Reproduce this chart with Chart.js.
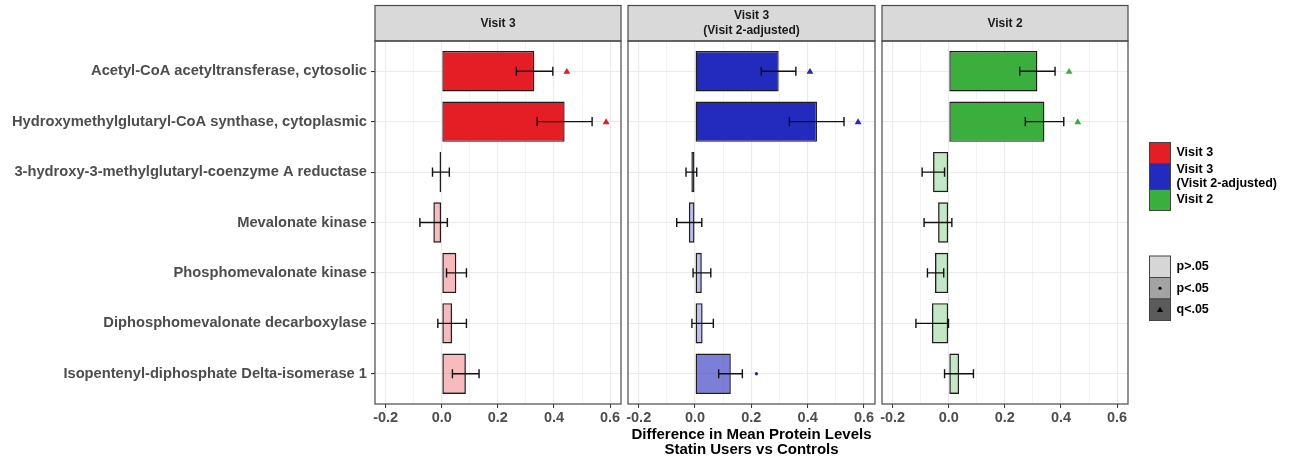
<!DOCTYPE html>
<html>
<head>
<meta charset="utf-8">
<title>Mevalonate pathway proteins</title>
<script src="https://cdn.jsdelivr.net/npm/chart.js@4.4.1/dist/chart.umd.min.js"></script>
<style>
  body { margin: 0; background: #fff; }
  #wrap { position: relative; width: 1292px; height: 466px; }
  #wrap canvas { position: absolute; left: 0; top: 0; }
</style>
</head>
<body>
<div id="wrap">
  <canvas id="panel1" width="1292" height="466"></canvas>
  <canvas id="panel2" width="1292" height="466"></canvas>
  <canvas id="panel3" width="1292" height="466"></canvas>
</div>
<script>
const proteins = [
  "Acetyl-CoA acetyltransferase, cytosolic",
  "Hydroxymethylglutaryl-CoA synthase, cytoplasmic",
  "3-hydroxy-3-methylglutaryl-coenzyme A reductase",
  "Mevalonate kinase",
  "Phosphomevalonate kinase",
  "Diphosphomevalonate decarboxylase",
  "Isopentenyl-diphosphate Delta-isomerase 1"
];

// mean difference, CI low/high, significance ("n" p>.05, "p" p<.05, "q" q<.05)
const visit3Diff = [0.330, 0.438, -0.008, -0.030, 0.052, 0.037, 0.086];
const visit3Low  = [0.266, 0.340, -0.033, -0.078, 0.017, -0.014, 0.038];
const visit3High = [0.396, 0.536, 0.027, 0.020, 0.088, 0.088, 0.133];
const visit3Sig  = ["q", "q", "n", "n", "n", "n", "n"];

const visit3AdjDiff = [0.297, 0.433, -0.013, -0.022, 0.024, 0.027, 0.127];
const visit3AdjLow  = [0.235, 0.335, -0.032, -0.065, -0.007, -0.011, 0.084];
const visit3AdjHigh = [0.358, 0.529, 0.006, 0.024, 0.056, 0.065, 0.168];
const visit3AdjSig  = ["q", "q", "n", "n", "n", "n", "p"];

const visit2Diff = [0.316, 0.341, -0.056, -0.038, -0.049, -0.060, 0.037];
const visit2Low  = [0.253, 0.273, -0.095, -0.088, -0.076, -0.117, -0.015];
const visit2High = [0.379, 0.410, -0.015, 0.011, -0.018, -0.001, 0.088];
const visit2Sig  = ["q", "q", "n", "n", "n", "n", "n"];

const panelTitles = [["Visit 3"], ["Visit 3", "(Visit 2-adjusted)"], ["Visit 2"]];
const sigLabels = ["p>.05", "p<.05", "q<.05"];
const xMajor = [-0.2, 0, 0.2, 0.4, 0.6];
const xMinor = [-0.1, 0.1, 0.3, 0.5];
const xAxisTitle = ["Difference in Mean Protein Levels", "Statin Users vs Controls"];

const visitColors = [[228, 30, 36], [35, 42, 190], [58, 175, 62]];
const sigAlpha = { n: 0.3, p: 0.6, q: 1 };
const sigKeyFill = ["#d6d6d6", "#a3a3a3", "#5b5b5b"];

const FONT = "'Liberation Sans', Arial, Helvetica, sans-serif";
Chart.defaults.font.family = FONT;

const xGrid = xMajor.concat(xMinor).sort((a, b) => a - b);
const isMajor = (v) => xMajor.some((m) => Math.abs(m - v) < 1e-9);
const rgba = (c, a) => `rgba(${c[0]},${c[1]},${c[2]},${a})`;

function drawTriangle(ctx, x, y, r) {
  ctx.beginPath();
  ctx.moveTo(x, y - r);
  ctx.lineTo(x + r * 1.05, y + r * 0.75);
  ctx.lineTo(x - r * 1.05, y + r * 0.75);
  ctx.closePath();
  ctx.fill();
}

// error bars + significance markers
const errorBars = {
  id: "errorBars",
  afterDatasetsDraw(chart) {
    const { ctx, scales: { x, y } } = chart;
    const p = chart.options.plugins.errorBars;
    ctx.save();
    p.low.forEach((lo, i) => {
      const x1 = x.getPixelForValue(lo);
      const x2 = x.getPixelForValue(p.high[i]);
      const yc = y.getPixelForValue(i);
      ctx.strokeStyle = "#111";
      ctx.lineWidth = 1.4;
      ctx.beginPath();
      ctx.moveTo(x1, yc); ctx.lineTo(x2, yc);
      ctx.moveTo(x1, yc - 4.6); ctx.lineTo(x1, yc + 4.6);
      ctx.moveTo(x2, yc - 4.6); ctx.lineTo(x2, yc + 4.6);
      ctx.stroke();

      const mx = x.getPixelForValue(p.high[i] + 0.05);
      ctx.fillStyle = rgba(p.color, 1);
      if (p.sig[i] === "q") {
        drawTriangle(ctx, mx, yc, 3.3);
      } else if (p.sig[i] === "p") {
        ctx.beginPath();
        ctx.arc(mx, yc, 1.7, 0, Math.PI * 2);
        ctx.fill();
      }
    });
    ctx.restore();
  }
};

// panel border and facet strip
const panelFrame = {
  id: "panelFrame",
  afterDraw(chart) {
    const { ctx, chartArea: a } = chart;
    const lines = chart.options.plugins.panelFrame.title;
    ctx.save();
    ctx.fillStyle = "#d9d9d9";
    ctx.fillRect(a.left, 5.5, a.right - a.left, a.top - 5.5);
    ctx.strokeStyle = "#4a4a4a";
    ctx.lineWidth = 1.2;
    ctx.strokeRect(a.left, 5.5, a.right - a.left, a.top - 5.5);
    ctx.strokeRect(a.left, a.top, a.right - a.left, a.bottom - a.top);
    ctx.fillStyle = "#1a1a1a";
    ctx.font = `bold 12px ${FONT}`;
    ctx.textAlign = "center";
    ctx.textBaseline = "middle";
    const cx = (a.left + a.right) / 2;
    const mid = (5.5 + a.top) / 2;
    lines.forEach((t, k) => {
      ctx.fillText(t, cx, mid + (k - (lines.length - 1) / 2) * 14.5);
    });
    ctx.restore();
  }
};

// fill/shade legend at the right
const sideLegend = {
  id: "sideLegend",
  afterDraw(chart) {
    const { ctx } = chart;
    const kx = 1149.5, kw = 21, tx = 1176.5;
    ctx.save();
    ctx.font = `bold 12.5px ${FONT}`;
    ctx.textAlign = "left";
    ctx.textBaseline = "middle";
    ctx.strokeStyle = "#444";
    ctx.lineWidth = 1;

    let ky = 142.5;
    panelTitles.forEach((lines, i) => {
      const kh = lines.length > 1 ? 26 : 21;
      ctx.fillStyle = rgba(visitColors[i], 1);
      ctx.fillRect(kx, ky, kw, kh);
      ctx.strokeRect(kx, ky, kw, kh);
      ctx.fillStyle = "#000";
      lines.forEach((t, k) => {
        ctx.fillText(t, tx, ky + kh / 2 + (k - (lines.length - 1) / 2) * 14.3);
      });
      ky += kh;
    });

    ky = 256;
    sigLabels.forEach((t, i) => {
      const kh = 21.5;
      ctx.fillStyle = sigKeyFill[i];
      ctx.fillRect(kx, ky, kw, kh);
      ctx.strokeRect(kx, ky, kw, kh);
      ctx.fillStyle = "#000";
      if (i === 1) {
        ctx.beginPath();
        ctx.arc(kx + kw / 2, ky + kh / 2, 1.6, 0, Math.PI * 2);
        ctx.fill();
      } else if (i === 2) {
        drawTriangle(ctx, kx + kw / 2, ky + kh / 2, 3);
      }
      ctx.fillText(t, tx, ky + kh / 2);
      ky += kh;
    });
    ctx.restore();
  }
};

function makePanel(id, idx, diff, low, high, sig, box) {
  const color = visitColors[idx];
  const plugins = [errorBars, panelFrame];
  if (idx === 2) plugins.push(sideLegend);

  return new Chart(document.getElementById(id), {
    type: "bar",
    data: {
      datasets: [{
        data: diff.map((v, i) => ({ x: v, y: i })),
        backgroundColor: sig.map((s) => rgba(color, sigAlpha[s])),
        borderColor: "#1e1e1e",
        borderWidth: 1.4,
        borderSkipped: false,
        inflateAmount: 0,
        barPercentage: 0.8,
        categoryPercentage: 1
      }]
    },
    options: {
      indexAxis: "y",
      responsive: false,
      animation: false,
      layout: { padding: { left: box.left, right: box.right, top: 41, bottom: 0 } },
      plugins: {
        legend: { display: false },
        tooltip: { enabled: false },
        errorBars: { low, high, sig, color },
        panelFrame: { title: panelTitles[idx] }
      },
      scales: {
        x: {
          type: "linear",
          min: -0.238,
          max: 0.639,
          afterBuildTicks: (s) => { s.ticks = xGrid.map((v) => ({ value: v })); },
          afterFit: (s) => { s.height = 62; },
          border: { display: false },
          grid: {
            color: "#ebebeb",
            lineWidth: (c) => (c.tick && isMajor(c.tick.value) ? 1.1 : 0.6),
            tickColor: (c) => (c.tick && isMajor(c.tick.value) ? "#333" : "rgba(0,0,0,0)"),
            tickLength: 4,
            tickWidth: 1
          },
          ticks: {
            autoSkip: false,
            maxRotation: 0,
            padding: 1,
            color: "#4d4d4d",
            font: { size: 14.5, weight: "bold" },
            callback: (v) => (isMajor(v) ? v.toFixed(1) : "")
          },
          title: {
            display: idx === 1,
            text: xAxisTitle,
            color: "#000",
            font: { size: 15, weight: "bold", lineHeight: 1.05 },
            padding: { top: 0, bottom: 8 }
          }
        },
        y: {
          type: "linear",
          reverse: true,
          offset: false,
          min: -0.6,
          max: proteins.length - 0.4,
          afterBuildTicks: (s) => { s.ticks = proteins.map((_, i) => ({ value: i })); },
          afterFit: (s) => { s.width = box.yWidth; },
          border: { display: false },
          grid: {
            offset: false,
            color: "#ebebeb",
            lineWidth: 1.1,
            drawTicks: idx === 0,
            tickColor: "#333",
            tickLength: 4
          },
          ticks: {
            display: idx === 0,
            autoSkip: false,
            padding: 4,
            color: "#4d4d4d",
            font: { size: 14.7, weight: "bold" },
            callback: (v) => proteins[v]
          }
        }
      }
    },
    plugins
  });
}

makePanel("panel1", 0, visit3Diff, visit3Low, visit3High, visit3Sig, { left: 0, right: 671, yWidth: 375 });
makePanel("panel2", 1, visit3AdjDiff, visit3AdjLow, visit3AdjHigh, visit3AdjSig, { left: 622, right: 417, yWidth: 6 });
makePanel("panel3", 2, visit2Diff, visit2Low, visit2High, visit2Sig, { left: 876, right: 164, yWidth: 6 });
</script>
</body>
</html>
